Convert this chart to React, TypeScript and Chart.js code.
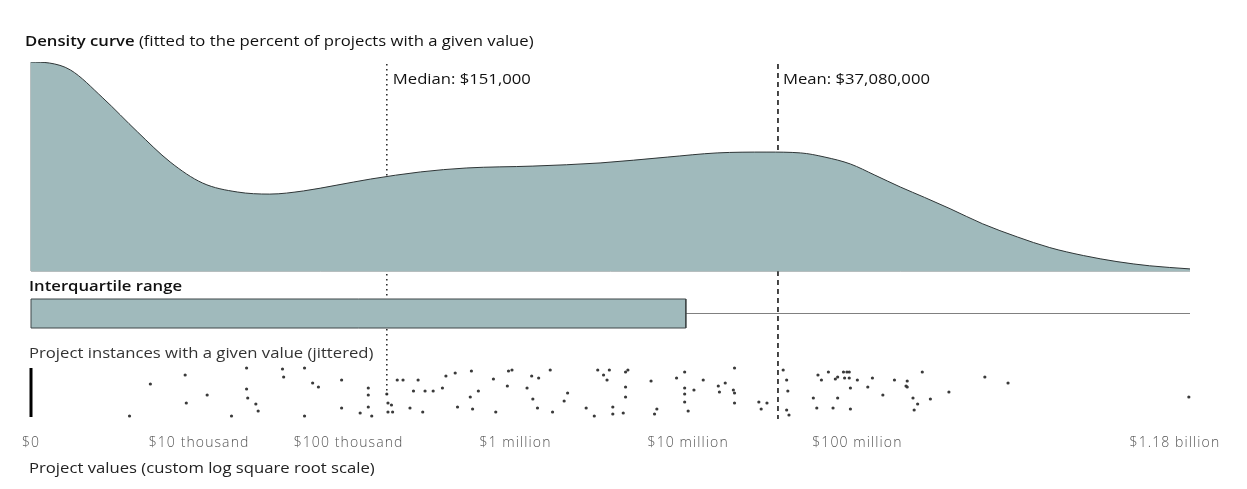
import React, { useEffect, useRef } from "react";
import { Chart, registerables } from "chart.js";

Chart.register(...registerables);

// ---- Data (x values are positions on the custom log square root scale, 0-100) ----
const TICK_POSITIONS = [0, 14.5, 27.4, 41.8, 56.7, 71.3, 98.7];
const TICK_LABELS = ["$0", "$10 thousand", "$100 thousand", "$1 million", "$10 million", "$100 million", "$1.18 billion"];

const DENSITY_X = [0, 1.6, 3.4, 6.2, 9.2, 12.0, 14.8, 17.8, 20.6, 23.5, 26.4, 29.3, 33.6, 37.6, 43.3, 49.1, 54.9, 59.2, 63.5, 66.4, 68.5, 70.7, 72.8, 75.0, 77.1, 79.3, 82.1, 85.1, 87.9, 90.8, 93.7, 96.5, 100];
const DENSITY_Y = [1.0, 0.995, 0.962, 0.828, 0.665, 0.522, 0.421, 0.378, 0.368, 0.383, 0.411, 0.44, 0.474, 0.493, 0.502, 0.517, 0.545, 0.565, 0.569, 0.565, 0.545, 0.512, 0.459, 0.402, 0.352, 0.298, 0.226, 0.163, 0.112, 0.074, 0.045, 0.025, 0.01];

const Q1 = 0;
const Q3 = 56.5;
const MAX_VALUE = 100;
const MEDIAN = 30.7;
const MEAN = 64.45;
const MEDIAN_LABEL = "Median: $151,000";
const MEAN_LABEL = "Mean: $37,080,000";

const JITTER_X = [
  8.5, 10.3, 13.3, 13.4, 15.2, 17.3, 18.6, 18.6, 18.7, 19.4, 19.6, 21.7, 21.8, 23.6, 23.6, 24.3, 24.8, 26.8, 26.8, 28.4,
  29.1, 29.1, 29.1, 29.4, 30.7, 30.8, 31.1, 30.8, 31.2, 31.6, 32.1, 33.4, 33.0, 34.0, 34.7, 32.7, 33.8, 35.5, 35.8, 36.6,
  36.8, 38.0, 37.9, 38.6, 38.1, 39.9, 40.1, 41.1, 41.2, 41.5, 42.8, 43.2, 43.8, 43.3, 43.7, 44.8, 45.0, 46.3, 46.0, 47.9,
  48.6, 48.9, 49.4, 49.9, 49.7, 50.2, 50.2, 51.1, 51.3, 51.3, 51.5, 51.3, 53.5, 54.0, 53.8, 55.7, 56.4, 56.4, 56.4, 56.4,
  56.7, 57.2, 58.0, 59.3, 59.9, 59.4, 60.7, 60.6, 60.7, 60.7, 62.8, 63.0, 63.5, 64.9, 65.2, 65.3, 65.2, 65.4, 67.9, 68.8,
  68.2, 69.4, 67.5, 67.8, 69.2, 69.6, 70.1, 70.4, 70.6, 70.2, 70.6, 71.3, 70.7, 69.6, 70.7, 72.2, 72.6, 73.5, 74.5, 75.6,
  75.5, 75.6, 76.1, 76.5, 76.2, 76.9, 77.6, 79.2, 82.3, 84.3, 99.9,
];
const JITTER_Y = [
  0, 32, 41, 13, 21, 0, 48, 27, 18, 12, 5, 47, 39, 48, 0, 33, 29, 36, 8, 3,
  28, 21, 9, 0, 22, 13, 11, 4, 4, 36, 36, 36, 25, 25, 25, 8, 4, 28, 40, 43,
  9, 45, 19, 25, 7, 37, 4, 30, 45, 46, 28, 40, 38, 17, 8, 46, 4, 23, 15, 8,
  0, 46, 41, 46, 36, 9, 2, 3, 29, 19, 46, 44, 35, 7, 2, 38, 44, 28, 22, 14,
  5, 26, 36, 30, 33, 24, 48, 26, 23, 13, 14, 7, 13, 46, 36, 25, 6, 1, 41, 44,
  36, 37, 18, 8, 8, 39, 44, 44, 44, 38, 38, 36, 28, 18, 7, 29, 38, 21, 36, 35,
  30, 29, 18, 12, 6, 44, 17, 24, 39, 33, 19,
];
const ZERO_VALUE_BAR = [-1, 48];

// ---- Layout (pixels) ----
const W = 1247;
const H = 489;
const AREA_LEFT = 31;
const AREA_RIGHT = 1190;
const AREA_TOP = 62;
const AREA_BOTTOM = 417;
const DENS_BASE = 271;
const IQR_TOP = 299;
const IQR_BOTTOM = 328;
const JIT_BASE = 416;
const X_AXIS_H = 40;

const FILL = "#a0babc";
const STROKE = "#2e3536";
const FONT = "'Open Sans', Lato, sans-serif";
const FS = 14.2;
const STRETCH = 1.175;

const pxFrac = (py: number) => (AREA_BOTTOM - py) / (AREA_BOTTOM - AREA_TOP);

function wideText(ctx: CanvasRenderingContext2D, text: string, x: number, y: number): number {
  ctx.save();
  ctx.translate(x, y);
  ctx.scale(STRETCH, 1);
  ctx.fillText(text, 0, 0);
  const w = ctx.measureText(text).width * STRETCH;
  ctx.restore();
  return w;
}

const textPlugin = {
  id: "textAnnotations",
  beforeDraw(chart: any) {
    (chart.ctx as any).letterSpacing = "1.1px";
  },
  afterDraw(chart: any) {
    const { ctx } = chart;
    const xs = chart.scales.x;
    ctx.save();
    (ctx as any).letterSpacing = "0px";
    ctx.textBaseline = "middle";
    ctx.textAlign = "left";
    ctx.fillStyle = "#111";
    ctx.font = `600 ${FS}px ${FONT}`;
    const w = wideText(ctx, "Density curve", 25, 42);
    ctx.font = `${FS}px ${FONT}`;
    wideText(ctx, " (fitted to the percent of projects with a given value)", 25 + w, 42);

    wideText(ctx, MEDIAN_LABEL, xs.getPixelForValue(MEDIAN) + 6, 80);
    wideText(ctx, MEAN_LABEL, xs.getPixelForValue(MEAN) + 5, 80);

    ctx.font = `600 ${FS}px ${FONT}`;
    wideText(ctx, "Interquartile range", 29, 287);

    ctx.fillStyle = "#333";
    ctx.font = `${FS}px ${FONT}`;
    wideText(ctx, "Project instances with a given value (jittered)", 29, 354);
    ctx.fillStyle = "#222";
    wideText(ctx, "Project values (custom log square root scale)", 29, 469);
    ctx.restore();
    (ctx as any).letterSpacing = "0px";
  },
};

export default function App() {
  const ref = useRef<HTMLCanvasElement | null>(null);

  useEffect(() => {
    if (!ref.current) return;
    const densUnit = DENS_BASE - AREA_TOP;
    const iqrUnit = IQR_BOTTOM - IQR_TOP;
    const densityData = DENSITY_X.map((x, i) => ({ x, y: DENSITY_Y[i] }));
    const jitterData = JITTER_X.map((x, i) => ({ x, y: JITTER_Y[i] }));

    const chart = new Chart(ref.current, {
      type: "line",
      data: {
        datasets: [
          {
            label: "density",
            data: densityData,
            yAxisID: "yD",
            fill: "origin",
            backgroundColor: FILL,
            borderColor: STROKE,
            borderWidth: 1,
            pointRadius: 0,
            cubicInterpolationMode: "monotone",
          },
          {
            label: "density outline",
            data: [
              { x: MAX_VALUE, y: 0 },
              { x: 0, y: 0 },
              { x: 0, y: DENSITY_Y[0] },
            ],
            yAxisID: "yD",
            fill: false,
            borderColor: "#6f7f80",
            borderWidth: 1,
            pointRadius: 0,
            tension: 0,
            clip: false,
          },
          {
            label: "iqr box",
            data: [
              { x: Q1, y: 0 },
              { x: Q1, y: 1 },
              { x: Q3, y: 1 },
              { x: Q3, y: 0 },
              { x: Q1, y: 0 },
            ],
            yAxisID: "yI",
            fill: "shape",
            backgroundColor: FILL,
            borderColor: "#3f4748",
            borderWidth: 1,
            pointRadius: 0,
            tension: 0,
            clip: false,
          },
          {
            label: "whisker",
            data: [
              { x: Q3, y: 0.5 },
              { x: MAX_VALUE, y: 0.5 },
            ],
            yAxisID: "yI",
            fill: false,
            borderColor: "#808080",
            borderWidth: 1.2,
            pointRadius: 0,
          },
          {
            label: "iqr median",
            data: [
              { x: MEDIAN, y: 0 },
              { x: MEDIAN, y: 1 },
            ],
            yAxisID: "yI",
            fill: false,
            borderColor: "#1a1a1a",
            borderWidth: 1.5,
            pointRadius: 0,
          },
          {
            label: "median",
            data: [
              { x: MEDIAN, y: pxFrac(64) },
              { x: MEDIAN, y: pxFrac(395) },
            ],
            yAxisID: "yF",
            fill: false,
            borderColor: "#222",
            borderWidth: 1.5,
            borderDash: [1.5, 3.5],
            pointRadius: 0,
          },
          {
            label: "mean",
            data: [
              { x: MEAN, y: pxFrac(64) },
              { x: MEAN, y: pxFrac(419) },
            ],
            yAxisID: "yF",
            fill: false,
            borderColor: "#1a1a1a",
            borderWidth: 1.6,
            borderDash: [5, 4],
            pointRadius: 0,
            clip: false,
          },
          {
            label: "zero values",
            data: ZERO_VALUE_BAR.map((y) => ({ x: 0, y })),
            yAxisID: "yJ",
            fill: false,
            borderColor: "#000",
            borderWidth: 3,
            pointRadius: 0,
            clip: false,
          },
          {
            label: "instances",
            data: jitterData,
            yAxisID: "yJ",
            showLine: false,
            pointRadius: 1.6,
            pointBackgroundColor: "#3a3a3a",
            pointBorderWidth: 0,
            clip: false,
          },
        ],
      },
      options: {
        animation: false,
        responsive: true,
        maintainAspectRatio: false,
        events: [],
        layout: {
          padding: {
            left: AREA_LEFT,
            right: W - AREA_RIGHT,
            top: AREA_TOP,
            bottom: H - AREA_BOTTOM - X_AXIS_H,
          },
        },
        plugins: {
          legend: { display: false },
          tooltip: { enabled: false },
        },
        scales: {
          x: {
            type: "linear",
            min: 0,
            max: MAX_VALUE,
            grid: { display: false, drawTicks: false },
            border: { display: false },
            afterBuildTicks: (axis: any) => {
              axis.ticks = TICK_POSITIONS.map((value) => ({ value }));
            },
            afterFit: (axis: any) => {
              axis.height = X_AXIS_H;
            },
            ticks: {
              autoSkip: false,
              maxRotation: 0,
              minRotation: 0,
              padding: 18,
              color: "#555",
              font: { family: FONT, size: 14, weight: "300" as any },
              callback: (_v: any, i: number) => TICK_LABELS[i],
            },
          },
          yD: {
            type: "linear",
            display: false,
            max: 1,
            min: -(AREA_BOTTOM - DENS_BASE) / densUnit,
          },
          yI: {
            type: "linear",
            display: false,
            max: 1 + (IQR_TOP - AREA_TOP) / iqrUnit,
            min: -(AREA_BOTTOM - IQR_BOTTOM) / iqrUnit,
          },
          yJ: {
            type: "linear",
            display: false,
            max: JIT_BASE - AREA_TOP,
            min: JIT_BASE - AREA_BOTTOM,
          },
          yF: {
            type: "linear",
            display: false,
            min: 0,
            max: 1,
          },
        },
      },
      plugins: [textPlugin],
    });
    return () => chart.destroy();
  }, []);

  return (
    <div style={{ position: "fixed", left: 0, top: 0, width: W, height: H, background: "#fff" }}>
      <canvas ref={ref} />
    </div>
  );
}
